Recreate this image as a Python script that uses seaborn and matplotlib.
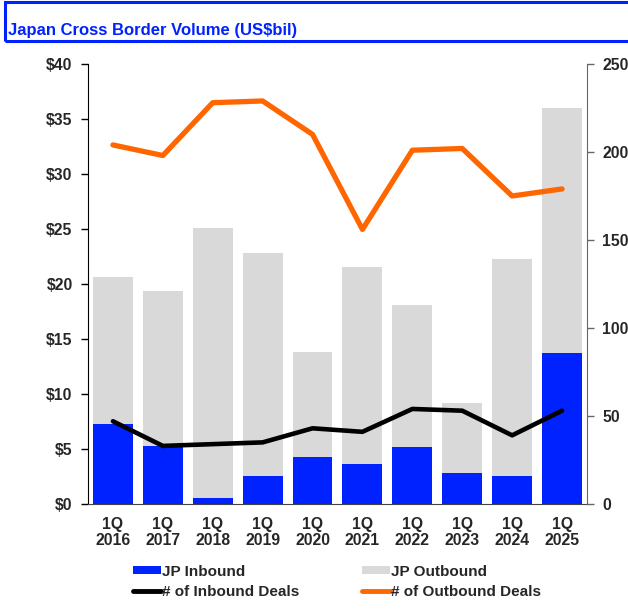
import numpy as np
import pandas as pd
import matplotlib
matplotlib.use("Agg")
import matplotlib.pyplot as plt
import seaborn as sns
from matplotlib.patches import Patch, Rectangle
from matplotlib.lines import Line2D

# Data
quarters = ["1Q\n2016", "1Q\n2017", "1Q\n2018", "1Q\n2019", "1Q\n2020",
            "1Q\n2021", "1Q\n2022", "1Q\n2023", "1Q\n2024", "1Q\n2025"]
jp_inbound = [7.3, 5.3, 0.5, 2.5, 4.3, 3.65, 5.2, 2.8, 2.55, 13.75]
jp_outbound = [13.3, 14.1, 24.55, 20.3, 9.5, 17.85, 12.9, 6.4, 19.7, 22.25]
inbound_deals = [47, 33, 34, 35, 43, 41, 54, 53, 39, 53]
outbound_deals = [204, 198, 228, 229, 210, 156, 201, 202, 175, 179]

left_ticks = ["$0", "$5", "$10", "$15", "$20", "$25", "$30", "$35", "$40"]

BLUE = "#0022ff"
GREY = "#d9d9d9"
ORANGE = "#ff6600"

df = pd.DataFrame({
    "quarter": quarters,
    "inbound": jp_inbound,
    "outbound": jp_outbound,
    "in_deals": inbound_deals,
    "out_deals": outbound_deals,
})
df["total"] = df["inbound"] + df["outbound"]
df["pos"] = np.arange(len(df))

sns.set_style("white")
plt.rcParams["font.family"] = ["Liberation Sans", "DejaVu Sans"]
plt.rcParams["font.weight"] = "bold"

fig = plt.figure(figsize=(6.28, 6.10), dpi=100)
ax = fig.add_axes([0.1401, 0.1738, 0.7946, 0.7213])

# stacked bars: grey total behind, blue inbound in front
sns.barplot(data=df, x="quarter", y="total", color=GREY, width=0.8,
            saturation=1, ax=ax, edgecolor="none")
sns.barplot(data=df, x="quarter", y="inbound", color=BLUE, width=0.8,
            saturation=1, ax=ax, edgecolor="none")

ax.set_xlim(-0.5, len(df) - 0.5)
ax.set_ylim(0, 40)
ax.set_yticks(np.arange(0, 41, 5))
ax.set_yticklabels(left_ticks, fontsize=11.3, fontweight="bold")
ax.set_xticks(df["pos"])
ax.set_xticklabels(quarters, fontsize=11.3, fontweight="bold", linespacing=1.05)
ax.set_xlabel("")
ax.set_ylabel("")
ax.tick_params(axis="y", which="both", left=True, length=5, width=1,
               color="black", pad=6)
ax.tick_params(axis="x", bottom=False, pad=6)
for s in ["top", "right"]:
    ax.spines[s].set_visible(False)
ax.spines["left"].set_color("black")
ax.spines["bottom"].set_color("#444444")

ax2 = ax.twinx()
sns.lineplot(data=df, x="pos", y="in_deals", color="black", lw=3.3, ax=ax2,
             solid_capstyle="round")
sns.lineplot(data=df, x="pos", y="out_deals", color=ORANGE, lw=3.8, ax=ax2,
             solid_capstyle="round")
ax2.set_ylim(0, 250)
ax2.set_yticks(np.arange(0, 251, 50))
ax2.set_yticklabels([str(v) for v in range(0, 251, 50)], fontsize=11.3,
                    fontweight="bold")
ax2.set_xlim(-0.5, len(df) - 0.5)
ax2.set_ylabel("")
ax2.set_xlabel("")
ax2.tick_params(axis="y", right=True, length=5, width=1, color="#666666", pad=6)
for s in ["top", "left", "bottom"]:
    ax2.spines[s].set_visible(False)
ax2.spines["right"].set_visible(True)
ax2.spines["right"].set_color("#666666")

# title box
fig.patches.append(Rectangle((0.008, 0.932), 1.0, 0.064, transform=fig.transFigure,
                             fill=False, edgecolor=BLUE, lw=2.2))
fig.text(0.012, 0.950, "Japan Cross Border Volume (US$bil)", color=BLUE,
         fontsize=12, fontweight="bold", va="center", ha="left")

handles = [
    Patch(facecolor=BLUE, edgecolor="none"),
    Line2D([0], [0], color="black", lw=3.5),
    Patch(facecolor=GREY, edgecolor="none"),
    Line2D([0], [0], color=ORANGE, lw=3.5),
]
labels = ["JP Inbound", "# of Inbound Deals", "JP Outbound", "# of Outbound Deals"]
fig.legend(handles, labels, loc="center", bbox_to_anchor=(0.537, 0.046), ncol=2,
           frameon=False, handlelength=1.8, handleheight=0.5,
           handletextpad=0.1, columnspacing=4.1, labelspacing=0.45,
           prop={"weight": "bold", "size": 11})

fig.savefig("out.png", dpi=100)
